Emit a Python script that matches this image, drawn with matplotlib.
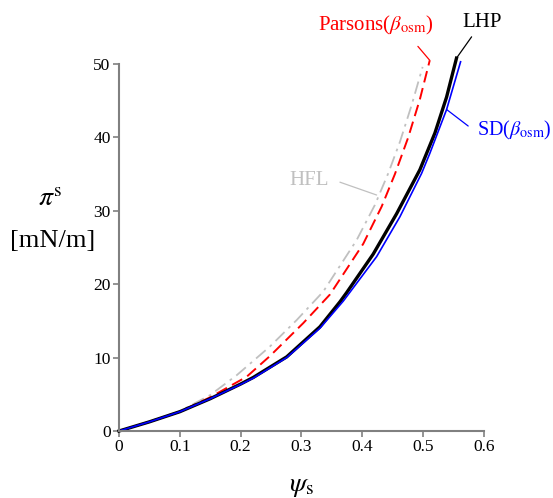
import matplotlib
matplotlib.use('Agg')
import matplotlib.pyplot as plt

plt.rcParams['font.family'] = ['Liberation Serif', 'DejaVu Serif']
plt.rcParams['mathtext.fontset'] = 'stix'

# values (psi_s, pi^s in mN/m)
psi_lhp = [0, 0.05, 0.1, 0.15, 0.2, 0.2208, 0.2757, 0.3304, 0.3633, 0.3743, 0.418, 0.4565, 0.4948, 0.5195, 0.5387, 0.555]
pi_lhp = [0, 1.25, 2.63, 4.4, 6.4, 7.3, 10.1, 14.2, 17.6, 18.85, 24.1, 29.6, 35.6, 40.6, 45.5, 50.8]

psi_sd = [0, 0.05, 0.1, 0.15, 0.2, 0.2208, 0.2757, 0.3304, 0.3688, 0.4236, 0.462, 0.4976, 0.511, 0.5387, 0.5617]
pi_sd = [0, 1.25, 2.63, 4.4, 6.35, 7.2, 10.0, 14.0, 17.7, 23.75, 29.2, 35.1, 37.8, 43.8, 50.3]

psi_par = [0, 0.05, 0.1, 0.15, 0.21, 0.248, 0.303, 0.3469, 0.4016, 0.4318, 0.4537, 0.4756, 0.4948, 0.511]
pi_par = [0, 1.25, 2.63, 4.6, 7.4, 10.2, 14.7, 18.6, 25.5, 30.56, 35.0, 40.0, 45.2, 50.5]

psi_hfl = [0, 0.05, 0.1, 0.15, 0.1935, 0.248, 0.292, 0.3359, 0.3907, 0.4208, 0.4427, 0.462, 0.4812, 0.4993]
pi_hfl = [0, 1.3, 2.7, 4.9, 7.6, 11.5, 15.1, 19.0, 26.0, 30.8, 35.1, 39.4, 44.4, 49.6]

fig = plt.figure(figsize=(5.53, 4.98), dpi=100)
ax = fig.add_axes([0.2152, 0.1345, 0.875 - 0.2152, 0.8715 - 0.1345])

ax.plot(psi_hfl, pi_hfl, color='#c0c0c0', lw=1.3, ls=(0, (7, 3, 1.5, 3)), clip_on=False)
ax.plot(psi_par, pi_par, color='red', lw=1.4, ls=(0, (6, 3)), clip_on=False)
ax.plot(psi_lhp, pi_lhp, color='black', lw=2.4, solid_joinstyle='round', clip_on=False)
ax.plot(psi_sd, pi_sd, color='blue', lw=1.2, solid_joinstyle='round', clip_on=False)

ax.set_xlim(0, 0.6)
ax.set_ylim(0, 50)
ax.set_xticks([0, 0.1, 0.2, 0.3, 0.4, 0.5, 0.6])
ax.set_xticklabels(['0', '0.1', '0.2', '0.3', '0.4', '0.5', '0.6'])
ax.set_yticks([0, 10, 20, 30, 40, 50])
for s in ['top', 'right']:
    ax.spines[s].set_visible(False)
for s in ['left', 'bottom']:
    ax.spines[s].set_color('#808080')
    ax.spines[s].set_linewidth(1.5)
ax.tick_params(colors='#808080', labelcolor='black', labelsize=12.5, length=4, width=1.2, pad=2)

# axis labels
fig.text(0.545, 0.024, r'$\psi_{\rm s}$', fontsize=20, ha='center', va='center')
fig.text(0.09, 0.6, r'$\pi^{\rm s}$', fontsize=20, ha='center', va='center')
fig.text(0.096, 0.517, '[mN/m]', fontsize=19, ha='center', va='center')

# curve labels
ax.text(0.4227, 55.3, r'Parsons($\beta_{\rm osm}$)', color='red', fontsize=15, ha='center', va='center')
ax.text(0.597, 55.7, 'LHP', color='black', fontsize=15, ha='center', va='center')
ax.text(0.650, 41.0, r'SD($\beta_{\rm osm}$)', color='blue', fontsize=14.5, ha='center', va='center')
ax.text(0.312, 34.1, 'HFL', color='#c0c0c0', fontsize=15, ha='center', va='center')

# leader lines from label to curve
leader = dict(arrowstyle='-', lw=0.9, shrinkA=0, shrinkB=0)
ax.annotate('', xy=(psi_par[-1], pi_par[-1]), xytext=(0.4915, 52.4), annotation_clip=False,
            arrowprops=dict(leader, color='red'))
ax.annotate('', xy=(psi_lhp[-1], pi_lhp[-1]), xytext=(0.5798, 53.7), annotation_clip=False,
            arrowprops=dict(leader, color='black'))
ax.annotate('', xy=(0.5387, 43.8), xytext=(0.5742, 41.55), annotation_clip=False,
            arrowprops=dict(leader, color='blue'))
ax.annotate('', xy=(0.4236, 32.15), xytext=(0.3633, 33.9), annotation_clip=False,
            arrowprops=dict(leader, color='#c0c0c0'))

fig.savefig('out.png', dpi=100)
